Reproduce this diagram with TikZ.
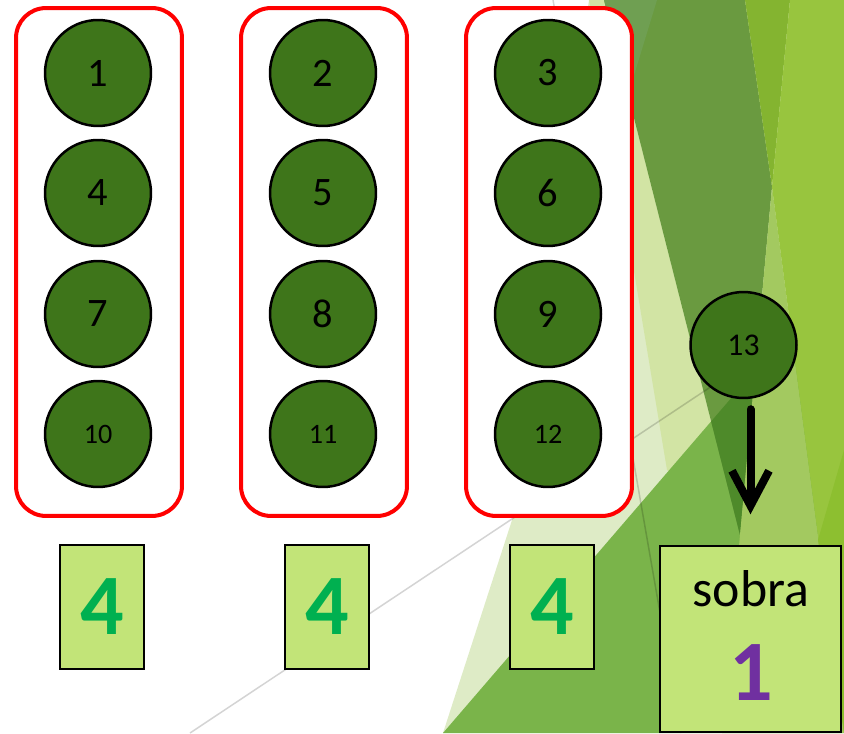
\documentclass[tikz,border=0pt]{standalone}
\usepackage{fontspec}
\setmainfont{Carlito}
\usetikzlibrary{arrows.meta, positioning, calc}
\definecolor{vertBille}{RGB}{62, 117, 26}
\definecolor{rougeVif}{RGB}{255, 0, 0}
\definecolor{vertCase}{RGB}{194, 228, 120}
\definecolor{vertChiffre}{RGB}{0, 176, 80}
\definecolor{violetReste}{RGB}{112, 48, 160}
\definecolor{fondPale}{RGB}{222, 235, 198}
\definecolor{fondClair}{RGB}{210, 228, 164}
\definecolor{fondMoyen}{RGB}{122, 180, 74}
\definecolor{fondSombre}{RGB}{106, 154, 64}
\definecolor{fondSombreBas}{RGB}{78, 138, 42}
\definecolor{fondGris}{RGB}{111, 159, 82}
\definecolor{fondJaune}{RGB}{152, 197, 62}
\definecolor{fondLime}{RGB}{132, 180, 48}
\definecolor{fondTendre}{RGB}{163, 201, 96}
\definecolor{fondOlive}{RGB}{141, 191, 48}
\newcommand\grandchiffre{\fontsize{23}{24}\selectfont}
\newcommand\petitchiffre{\fontsize{16}{17}\selectfont}

\begin{document}
\begin{tikzpicture}[x=0.02cm, y=-0.02cm,
  groupe/.style={rectangle, rounded corners=0.6cm, draw=rougeVif,
    fill=white, line width=0.08cm, minimum width=3.32cm,
    minimum height=10.16cm},
  bille/.style={circle, draw=black, fill=vertBille, line width=0.05cm,
    minimum size=2.12cm, inner sep=0pt},
  compte/.style={rectangle, draw=black, fill=vertCase, line width=0.03cm,
    minimum width=1.68cm, minimum height=2.48cm, inner sep=0pt,
    text=vertChiffre, font=\fontsize{49}{50}\selectfont\bfseries},
  reste/.style={rectangle, draw=black, fill=vertCase, line width=0.03cm,
    minimum width=3.62cm, minimum height=3.72cm},
  trait/.style={draw=black, draw opacity=0.17, line width=0.03cm},
  fleche/.style={-{Straight Barb[length=0.7cm, width=0.74cm]},
    line width=0.16cm, line cap=round},
]
\useasboundingbox (0,0) rectangle (844,733);
% fond du theme
\begin{scope}
  \clip (0,0) rectangle (844,733);
  \fill[fondPale] (443,733) -- (513,517) -- (589,0) -- (844,0)
    -- (844,733) -- cycle;
  \fill[fondClair] (589,0) -- (604,0) -- (740,535) -- (667,470) -- cycle;
  \fill[fondMoyen] (443,733) -- (844,267) -- (844,733) -- cycle;
  \fill[fondSombre] (604,0) -- (745,0) -- (772,187) -- (740,535) -- cycle;
  \begin{scope}
    \clip (443,733) -- (844,267) -- (844,733) -- cycle;
    \fill[fondSombreBas] (604,0) -- (745,0) -- (772,187) -- (740,535)
      -- cycle;
  \end{scope}
  \fill[fondGris] (604,0) -- (657,0) -- (628,95) -- cycle;
  \fill[fondLime] (745,0) -- (790,0) -- (772,187) -- cycle;
  \fill[fondTendre] (772,187) -- (844,733) -- (722,733) -- (740,535)
    -- cycle;
  \fill[fondJaune] (790,0) -- (844,0) -- (844,733) -- (772,187) -- cycle;
  \fill[fondOlive] (844,450) -- (818,540) -- (844,733) -- cycle;
  \draw[trait] (190,733) -- (712,386);
  \draw[trait] (553,0) -- (681,733);
\end{scope}

% groupes de trois
\foreach \i/\gx in {1/99, 2/324, 3/549}
  \node[groupe] (groupe\i) at (\gx,262) {};
\foreach \col/\cx in {0/98, 1/323, 2/548}
  \foreach \row/\cy in {0/73, 1/193, 2/314, 3/434} {
    \pgfmathtruncatemacro\num{3*\row+\col+1}
    \ifnum\num>9 \def\taille{\petitchiffre}\else\def\taille{\grandchiffre}\fi
    \node[bille, font=\taille] (c\num) at (\cx,\cy) {\num};
  }
\node[bille, font=\fontsize{18}{19}\selectfont] (c13) at (743.5,345) {13};

% resultats
\foreach \i/\bx in {1/102, 2/327, 3/552}
  \node[compte] (compte\i) at (\bx,607) {4};
\node[reste] (sobra) at (750.5,639) {};
\node[anchor=base, font=\fontsize{29.5}{30}\selectfont] (sobratxt)
  at (751,606) {sobra};
\node[anchor=base, text=violetReste,
  font=\fontsize{49}{50}\selectfont\bfseries] (restetxt)
  at (751,700) {1};
\draw[fleche, shorten <=0.2cm, shorten >=0.62cm]
  (sobra.north |- c13.south) -- (sobra.north);
\end{tikzpicture}
\end{document}
